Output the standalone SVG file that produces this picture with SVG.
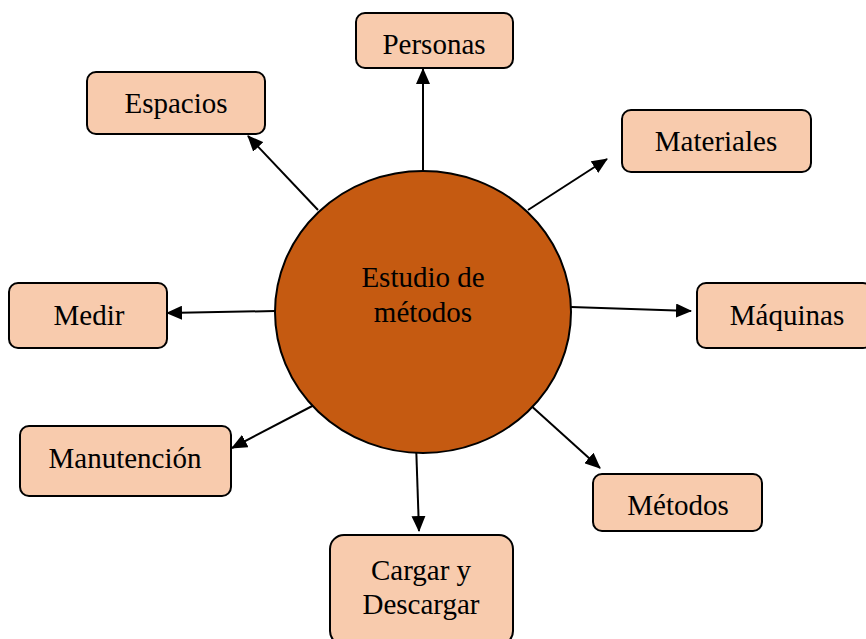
<svg xmlns="http://www.w3.org/2000/svg" width="866" height="639" viewBox="0 0 866 639">
<style>
.box{fill:#F8CBAD;stroke:#000;stroke-width:2}
.t{font-family:"Liberation Serif","Times New Roman",serif;font-size:29px;fill:#000;text-anchor:middle}
.c{stroke:#000;stroke-width:2;fill:none;marker-end:url(#ah)}
</style>
<defs>
<marker id="ah" markerUnits="userSpaceOnUse" markerWidth="16" markerHeight="14" viewBox="0 0 16 14" refX="15" refY="7" orient="auto">
<path d="M0,0 L16,7 L0,14 Z" fill="#000"/>
</marker>
</defs>
<rect width="866" height="639" fill="#fff"/>
<g id="connectors">
<line class="c" x1="423" y1="171" x2="423" y2="69"/>
<line class="c" x1="318" y1="210" x2="248" y2="136"/>
<line class="c" x1="528" y1="210" x2="607" y2="159"/>
<line class="c" x1="571" y1="307" x2="691" y2="311"/>
<line class="c" x1="275" y1="311" x2="167" y2="313"/>
<line class="c" x1="318" y1="403" x2="232" y2="448"/>
<line class="c" x1="528" y1="403" x2="600" y2="468"/>
<line class="c" x1="416" y1="443" x2="419" y2="531"/>
</g>
<g id="center">
<ellipse cx="423" cy="312" rx="148" ry="141" fill="#C55A11" stroke="#000" stroke-width="2"/>
<text class="t" x="423" y="287">Estudio de</text>
<text class="t" x="423" y="322">métodos</text>
</g>
<g id="personas"><rect class="box" x="356" y="13" width="157" height="55" rx="9"/><text class="t" x="434" y="54">Personas</text></g>
<g id="espacios"><rect class="box" x="87" y="72" width="178" height="62" rx="9"/><text class="t" x="176" y="113">Espacios</text></g>
<g id="materiales"><rect class="box" x="622" y="110" width="189" height="62" rx="9"/><text class="t" x="716" y="151">Materiales</text></g>
<g id="maquinas"><rect class="box" x="697" y="283" width="175" height="65" rx="9"/><text class="t" x="787" y="325">Máquinas</text></g>
<g id="medir"><rect class="box" x="9" y="283" width="158" height="65" rx="9"/><text class="t" x="89" y="325">Medir</text></g>
<g id="manutencion"><rect class="box" x="20" y="426" width="211" height="70" rx="9"/><text class="t" x="125" y="468">Manutención</text></g>
<g id="metodos"><rect class="box" x="593" y="474" width="169" height="57" rx="9"/><text class="t" x="678" y="515">Métodos</text></g>
<g id="cargar"><rect class="box" x="330" y="535" width="183" height="110" rx="14"/><text class="t" x="421" y="580">Cargar y</text><text class="t" x="421" y="614">Descargar</text></g>
</svg>
